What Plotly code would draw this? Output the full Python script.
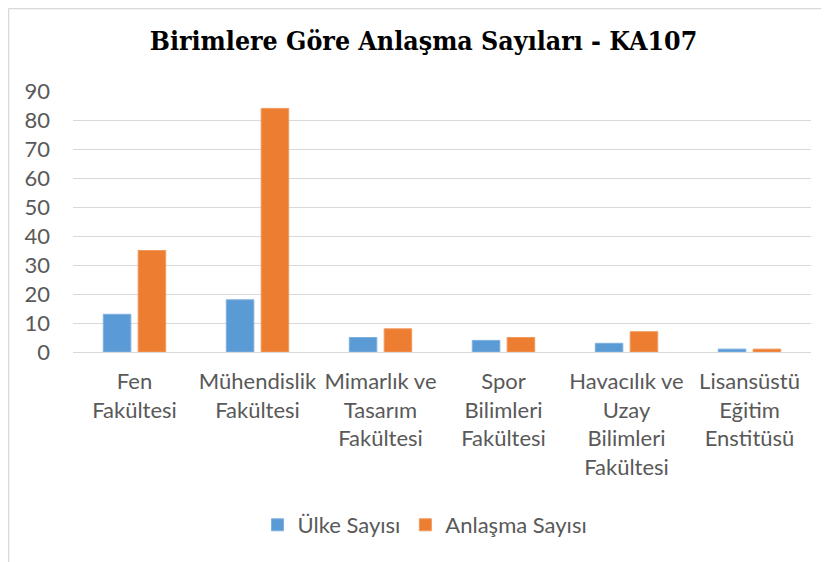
import plotly.graph_objects as go

categories = [
    "Fen<br>Fakültesi",
    "Mühendislik<br>Fakültesi",
    "Mimarlık ve<br>Tasarım<br>Fakültesi",
    "Spor<br>Bilimleri<br>Fakültesi",
    "Havacılık ve<br>Uzay<br>Bilimleri<br>Fakültesi",
    "Lisansüstü<br>Eğitim<br>Enstitüsü",
]
ulke_sayisi = [13, 18, 5, 4, 3, 1]
anlasma_sayisi = [35, 84, 8, 5, 7, 1]
y_ticks = [0, 10, 20, 30, 40, 50, 60, 70, 80, 90]

# the page body adds an 8px offset; figure coordinates = reference - 8
OFF = 8
W, H = 829 - OFF, 562 - OFF
L = 73 - OFF
R = W - (811 - OFF)
T = 91 - OFF
B = H - (352 - OFF)
pw, ph = W - L - R, H - T - B

def px_x(x):
    return (x - OFF - L) / pw

def px_y(y):
    return (H - B - (y - OFF)) / ph

font_fam = "Lato, Roboto, sans-serif"
gray = "#595959"

fig = go.Figure()
fig.add_trace(go.Bar(
    name="Ülke Sayısı", x=categories, y=ulke_sayisi,
    marker=dict(color="#5B9BD5", line=dict(color="#7FB0DF", width=1)),
))
fig.add_trace(go.Bar(
    name="Anlaşma Sayısı", x=categories, y=anlasma_sayisi,
    marker=dict(color="#ED7D31", line=dict(color="#F19A5E", width=1)),
))

fig.update_layout(
    width=W, height=H,
    margin=dict(l=L, r=R, t=T, b=B, autoexpand=False),
    paper_bgcolor="white", plot_bgcolor="white",
    barmode="group", bargap=0.433, bargroupgap=0.21,
    title=dict(
        text="<b>Birimlere Göre Anlaşma Sayıları - KA107</b>",
        font=dict(family="'DejaVu Serif Condensed', 'DejaVu Serif', serif", size=26.5, color="#000000"),
        x=(423.5 - OFF) / W, xanchor="center", xref="container",
        y=1 - (41 - OFF) / H, yanchor="middle", yref="container",
    ),
    font=dict(family=font_fam, size=22, color=gray),
    showlegend=True,
    legend=dict(
        orientation="h", x=px_x(425), xanchor="center",
        y=px_y(525), yanchor="middle",
        font=dict(family=font_fam, size=22, color=gray),
        itemwidth=30, traceorder="normal",
    ),
    xaxis=dict(
        showgrid=False, zeroline=False, showline=False, ticks="",
        tickfont=dict(family=font_fam, size=22, color=gray),
        ticklabelstandoff=14,
        fixedrange=True,
    ),
    yaxis=dict(
        range=[0, 90], tickvals=y_ticks, showgrid=True, gridcolor="#D9D9D9",
        gridwidth=1, zeroline=True, zerolinecolor="#D9D9D9", zerolinewidth=1,
        showline=False, ticks="", ticklabelstandoff=22,
        tickfont=dict(family=font_fam, size=22, color=gray),
    ),
    shapes=[
        dict(type="line", xref="paper", yref="paper",
             x0=px_x(8.5), x1=px_x(8.5), y0=px_y(8.5), y1=px_y(570),
             line=dict(color="#D9D9D9", width=1.5)),
        dict(type="line", xref="paper", yref="paper",
             x0=px_x(8.5), x1=px_x(840), y0=px_y(8.5), y1=px_y(8.5),
             line=dict(color="#D9D9D9", width=1.5)),
    ],
)

fig.write_html("out.html")
